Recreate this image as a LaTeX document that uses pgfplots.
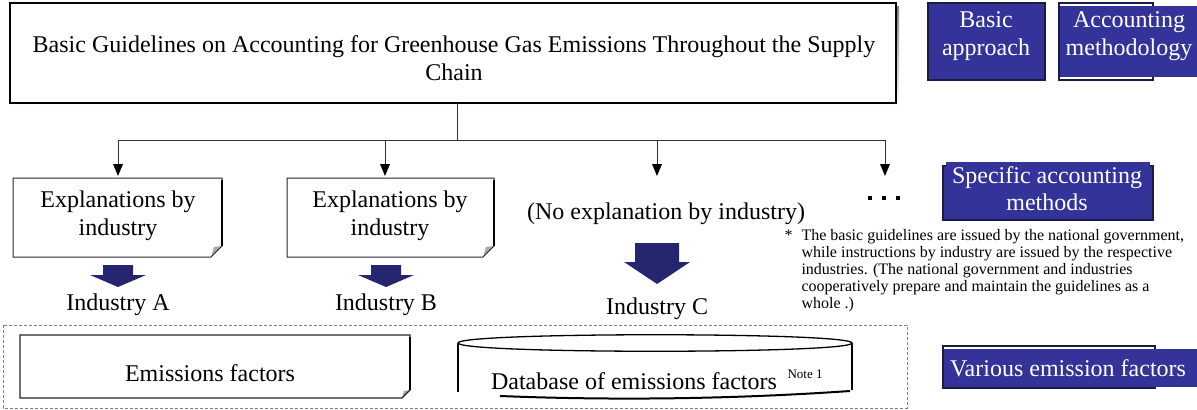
\documentclass[border=0pt]{standalone}
\usepackage{pgfplots}
\pgfplotsset{compat=1.18}
\usepackage{fontspec}
\setmainfont{Liberation Serif}
\definecolor{boxblue}{HTML}{333399}
\definecolor{boxedge}{HTML}{1C1C40}
\definecolor{navy}{HTML}{262670}
\definecolor{shade}{HTML}{555555}
\newcommand{\fs}[2]{\fontsize{#1bp}{#2bp}\selectfont}
\begin{document}
\begin{tikzpicture}
\begin{axis}[width=1197bp,height=410bp,scale only axis,
  xmin=0,xmax=1197,ymin=0,ymax=410,y dir=reverse,
  hide axis,clip=false]
% page frame (invisible)
\path (0,0) rectangle (1197,410);
% ---- top box with shadow
\fill[shade] (13,6) rectangle (899,106);
\draw[black,line width=1.2bp,fill=white] (10,3) rectangle (896,103);
\node[anchor=base,font=\fs{24}{28}] at (454,52) {Basic Guidelines on Accounting for Greenhouse Gas Emissions Throughout the Supply};
\node[anchor=base,font=\fs{24}{28}] at (454,80) {Chain};
% ---- connectors
\draw[line width=1bp,black!80] (457,103) -- (457,140);
\draw[line width=1bp,black!80] (118,140) -- (885,140);
\pgfplotsinvokeforeach{118,385,657,885}{
  \draw[line width=1bp,black!80] (#1,140) -- (#1,166);
  \fill[black] (#1-5,164) -- (#1+5,164) -- (#1,176) -- cycle;
}
% dots
\pgfplotsinvokeforeach{870,884,898}{ \fill[black] (#1-2,196) rectangle (#1+2,200); }
% ---- explanation boxes with folded corner
\fill[white] (13,178) -- (222,178) -- (222,246) -- (211,257) -- (13,257) -- cycle;
\fill[gray!70] (222,246) -- (211,257) -- (214,247) -- cycle;
\draw[black!85,line width=1bp] (211,257) -- (13,257) -- (13,178) -- (222,178) -- (222,246) -- cycle;
\draw[black,line width=2bp] (222,180) -- (222,246);
\fill[white] (287,178) -- (494,178) -- (494,246) -- (483,257) -- (287,257) -- cycle;
\fill[gray!70] (494,246) -- (483,257) -- (486,247) -- cycle;
\draw[black!85,line width=1bp] (483,257) -- (287,257) -- (287,178) -- (494,178) -- (494,246) -- cycle;
\draw[black,line width=2bp] (494,180) -- (494,246);
\node[anchor=base,font=\fs{24}{28}] at (118,207) {Explanations by};
\node[anchor=base,font=\fs{24}{28}] at (118,235) {industry};
\node[anchor=base,font=\fs{24}{28}] at (390,207) {Explanations by};
\node[anchor=base,font=\fs{24}{28}] at (390,235) {industry};
\node[anchor=base,font=\fs{24}{28}] at (666,219) {(No explanation by industry)};
% ---- block arrows
\fill[navy] (103,265) -- (133,265) -- (133,275) -- (146,275) -- (118,287) -- (90,275) -- (103,275) -- cycle;
\fill[navy] (371,265) -- (401,265) -- (401,275) -- (414,275) -- (386,287) -- (358,275) -- (371,275) -- cycle;
\fill[navy] (635,243) -- (679,243) -- (679,262) -- (690,262) -- (657,284) -- (624,262) -- (635,262) -- cycle;
\node[anchor=base,font=\fs{24}{28}] at (118,310) {Industry A};
\node[anchor=base,font=\fs{24}{28}] at (386,310) {Industry B};
\node[anchor=base,font=\fs{24}{28}] at (657,314) {Industry C};
% ---- note
\node[anchor=base west,font=\fs{16}{17}] at (781,240) {*};
\node[anchor=base west,font=\fs{16}{17}] at (798,240) {The basic guidelines are issued by the national government,};
\node[anchor=base west,font=\fs{16}{17}] at (798,257) {while instructions by industry are issued by the respective};
\node[anchor=base west,font=\fs{16}{17}] at (798,274) {industries. (The national government and industries};
\node[anchor=base west,font=\fs{16}{17}] at (798,291) {cooperatively prepare and maintain the guidelines as a};
\node[anchor=base west,font=\fs{16}{17}] at (798,308) {whole .)};
% ---- dashed group
\draw[gray,line width=1bp,dash pattern=on 3bp off 2bp] (3,325) rectangle (907,408);
% emissions factors box
\fill[white] (20,335) -- (410,335) -- (410,390) -- (402,398) -- (20,398) -- cycle;
\fill[gray!70] (410,390) -- (402,398) -- (404,391) -- cycle;
\draw[black!85,line width=1.2bp] (402,398) -- (20,398) -- (20,335) -- (410,335) -- (410,390) -- cycle;
\draw[black,line width=2bp] (410,337) -- (410,390);
\node[anchor=base,font=\fs{24}{28}] at (210,381) {Emissions factors};
% cylinder
\draw[black,line width=1.3bp] (458,343) .. controls (458,332) and (852,332) .. (852,343)
   .. controls (852,354) and (458,354) .. (458,343);
\draw[black,line width=1.3bp] (458,343) -- (458,392);
\draw[black,line width=1.3bp] (852,343) -- (852,390);
\draw[black,line width=2bp] (500,396) .. controls (600,400) and (720,400) .. (850,391);
\node[anchor=base,font=\fs{24}{28}] at (634,389) {Database of emissions factors};
\node[anchor=base west,font=\fs{13}{15}] at (784,378) {Note 1};
% ---- blue label boxes
\fill[boxblue] (928,3) rectangle (1045,80);
\draw[boxedge,line width=1.5bp] (928,3) rectangle (1045,80);
\node[anchor=base,text=white,font=\fs{24}{28}] at (986,27) {Basic};
\node[anchor=base,text=white,font=\fs{24}{28}] at (986,55) {approach};
\draw[boxedge,line width=1.5bp] (1059,3) rectangle (1153,80);
\fill[boxblue] (1060,6) rectangle (1197,77);
\node[anchor=base,text=white,font=\fs{24}{28}] at (1129,27) {Accounting};
\node[anchor=base,text=white,font=\fs{24}{28}] at (1129,55) {methodology};
\draw[boxedge,line width=1.5bp,fill=boxblue] (943,166) rectangle (1153,220);
\fill[boxblue] (946,162) rectangle (1150,218);
\node[anchor=base,text=white,font=\fs{24}{28}] at (1047,183) {Specific accounting};
\node[anchor=base,text=white,font=\fs{24}{28}] at (1047,210) {methods};
\draw[boxedge,line width=1.5bp] (943,346) rectangle (1155,388);
\fill[boxblue] (944,349) rectangle (1197,387);
\node[anchor=base,text=white,font=\fs{24}{28}] at (1068,376) {Various emission factors};
\end{axis}
\end{tikzpicture}
\end{document}
